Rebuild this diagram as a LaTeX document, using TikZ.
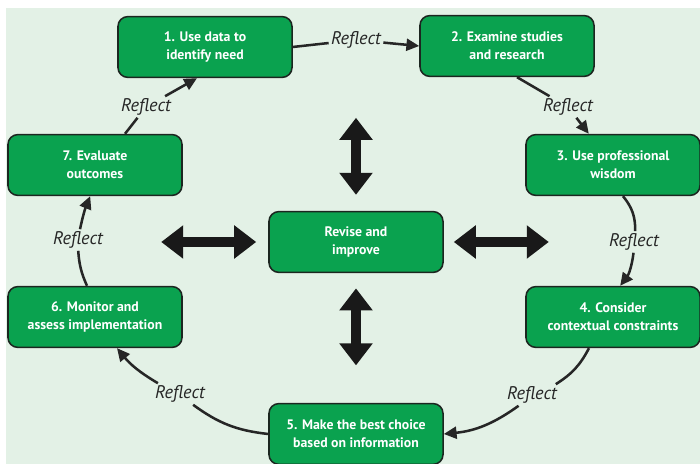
\documentclass[tikz,border=0pt]{standalone}
\usepackage{fontspec}
\setmainfont{PT Sans}
\usetikzlibrary{arrows.meta, positioning, calc}
\definecolor{cyclebg}{HTML}{E3F1E6}
\definecolor{stepgreen}{HTML}{0AA24F}
\definecolor{stepedge}{HTML}{1C2620}
\definecolor{inkdark}{HTML}{262626}

\begin{document}
\begin{tikzpicture}[x=0.025cm, y=0.025cm,
  >={Triangle[length=0.32cm, width=0.3cm]},
  stepbox/.style={draw=stepedge, line width=1.1pt, fill=stepgreen,
    rounded corners=7pt, minimum width=4.35cm, minimum height=1.52cm,
    align=center, text=white, font=\bfseries\fontsize{9.8}{12.8}\selectfont},
  reflect/.style={text=inkdark, inner sep=1.5pt,
    font=\itshape\fontsize{13}{15}\selectfont},
  link/.style={inkdark, line width=1.8pt},
  bigarrow/.style={black!90, line width=0.27cm,
    {Triangle[length=0.55cm, width=0.8cm]}-{Triangle[length=0.55cm, width=0.8cm]}}]
  \useasboundingbox (0,0) rectangle (700,464);
  \fill[cyclebg] (6,0) rectangle (700,456);
  % the seven steps round the cycle
  \foreach \name/\x/\y/\txt in {b1/205/417/{1. Use data to\\identify need},
      b2/507/418/{2. Examine studies\\and research},
      b3/613/299/{3. Use professional\\wisdom},
      b4/613/147/{4. Consider\\contextual constraints},
      b5/356/30/{5. Make the best choice\\based on information},
      b6/95/147/{6. Monitor and\\assess implementation},
      b7/95/299/{7. Evaluate\\outcomes}}{%
    \node[stepbox] (\name) at (\x,\y) {\txt};}
  \node[stepbox] (mid) at (356,222) {Revise and\\improve};
  % reflect labels between the steps
  \foreach \name/\x/\y in {r12/356/424, r23/568/357, r34/634/222,
      r45/532/69, r56/180/70, r67/78/224, r71/146/357}{%
    \node[reflect] (\name) at (\x,\y) {Reflect};}
  \draw[link] (b1.east) -- (r12);
  \draw[link, ->] (r12) -- (b2.west);
  \draw[link] ([xshift=0.25cm]b2.south) -- (r23);
  \draw[link, ->] (r23) -- (b3);
  \draw[link] ([xshift=0.25cm]b3.south) to[bend left=20] (r34);
  \draw[link, ->] (r34) to[bend left=15] ([xshift=0.18cm]b4.north);
  \draw[link] ([xshift=-0.6cm]b4.south) to[bend left=15] (r45);
  \draw[link, ->] (r45) to[bend left=15] (b5.east);
  \draw[link] (b5.west) to[bend left=15] (r56);
  \draw[link, ->] (r56) to[bend left=10] ([xshift=0.55cm]b6.south);
  \draw[link] ([xshift=-0.2cm]b6.north) to[bend left=10] (r67);
  \draw[link, ->] (r67) to[bend left=5] ([xshift=-0.12cm]b7.south);
  \draw[link] ([xshift=0.75cm]b7.north) -- (r71);
  \draw[link, ->] (r71) -- ([xshift=-0.2cm]b1.south);
  % revise and improve reaches every side
  \draw[bigarrow] ([yshift=0.4cm]mid.north) -- ++(0,77);
  \draw[bigarrow] ([yshift=-0.38cm]mid.south) -- ++(0,-77);
  \draw[bigarrow] ([xshift=-0.3cm]mid.west) -- ++(-95,0);
  \draw[bigarrow] ([xshift=0.25cm]mid.east) -- ++(95,0);
\end{tikzpicture}
\end{document}
